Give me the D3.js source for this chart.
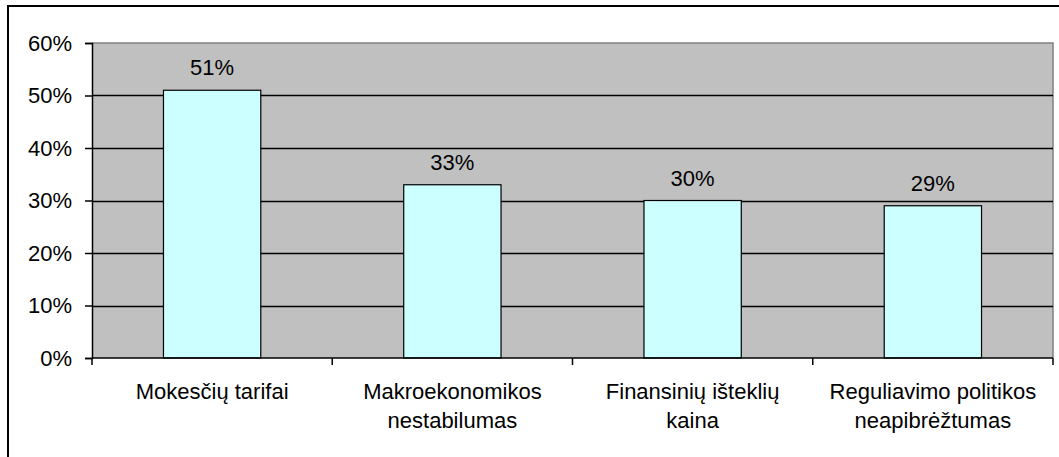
<!DOCTYPE html>
<html>
<head>
<meta charset="utf-8">
<script src="https://cdn.jsdelivr.net/npm/d3@7"></script>
<style>
  body { margin: 0; background: #fff; }
  svg text { font-family: "Liberation Sans", Arial, sans-serif; fill: #000; }
</style>
</head>
<body>
<svg id="chart" width="1059" height="457"></svg>
<script>
// chart data
const categories = [
    ["Mokesčių tarifai"],
    ["Makroekonomikos", "nestabilumas"],
    ["Finansinių išteklių", "kaina"],
    ["Reguliavimo politikos", "neapibrėžtumas"]
];
const values = [0.51, 0.33, 0.30, 0.29];
const yTicks = [0, 0.1, 0.2, 0.3, 0.4, 0.5, 0.6];

(function() {
    const svg = d3.select("#chart");
    const plot = { left: 92, top: 43, right: 1053, bottom: 358 };
    const fontSize = 22;

    // outer frame, runs off the right and bottom edge
    svg.append("rect")
        .attr("x", 8).attr("y", 6)
        .attr("width", 1070).attr("height", 470)
        .attr("fill", "#fff")
        .attr("stroke", "#000")
        .attr("stroke-width", 2);

    const x = d3.scaleBand()
        .domain(d3.range(categories.length))
        .range([plot.left, plot.right])
        .paddingInner(0.595)
        .paddingOuter(0.2975);

    const y = d3.scaleLinear()
        .domain([0, 0.6])
        .range([plot.bottom, plot.top]);

    svg.append("rect")
        .attr("x", plot.left).attr("y", plot.top)
        .attr("width", plot.right - plot.left)
        .attr("height", plot.bottom - plot.top)
        .attr("fill", "#c0c0c0");

    // top + right border of plot area in grey
    svg.append("path")
        .attr("d", `M${plot.left},${plot.top}H${plot.right}V${plot.bottom}`)
        .attr("fill", "none")
        .attr("stroke", "#808080")
        .attr("stroke-width", 1.5);

    // gridlines
    svg.append("g")
        .selectAll("line")
        .data(yTicks.filter(d => d > 0 && d < 0.6))
        .join("line")
        .attr("x1", plot.left).attr("x2", plot.right)
        .attr("y1", d => Math.round(y(d)) + 0.5)
        .attr("y2", d => Math.round(y(d)) + 0.5)
        .attr("stroke", "#000")
        .attr("stroke-width", 1.5);

    // bars
    svg.append("g")
        .selectAll("rect")
        .data(values)
        .join("rect")
        .attr("x", (d, i) => x(i))
        .attr("y", d => y(d))
        .attr("width", x.bandwidth())
        .attr("height", d => plot.bottom - y(d))
        .attr("fill", "#ccffff")
        .attr("stroke", "#000")
        .attr("stroke-width", 1.2);

    // value labels
    svg.append("g")
        .selectAll("text")
        .data(values)
        .join("text")
        .attr("x", (d, i) => x(i) + x.bandwidth() / 2)
        .attr("y", d => y(d) - 15)
        .attr("text-anchor", "middle")
        .attr("font-size", fontSize)
        .text(d => d3.format(".0%")(d));

    // y axis
    const yAxis = d3.axisLeft(y)
        .tickValues(yTicks)
        .tickFormat(d3.format(".0%"))
        .tickSize(7)
        .tickPadding(13);

    svg.append("g")
        .attr("transform", `translate(${plot.left},0)`)
        .call(yAxis)
        .call(g => g.select(".domain").attr("stroke-width", 1.5))
        .call(g => g.selectAll(".tick line").attr("stroke-width", 1.5))
        .call(g => g.selectAll("text")
            .attr("font-size", fontSize)
            .attr("font-family", "Liberation Sans, Arial, sans-serif"));

    // x axis: line at 0 with ticks between categories
    const step = x.step();
    const bounds = d3.range(categories.length + 1).map(i => plot.left + i * step);
    const xg = svg.append("g");
    xg.append("line")
        .attr("x1", plot.left).attr("x2", plot.right)
        .attr("y1", plot.bottom).attr("y2", plot.bottom)
        .attr("stroke", "#000")
        .attr("stroke-width", 1.5);
    xg.selectAll(".xtick")
        .data(bounds)
        .join("line")
        .attr("class", "xtick")
        .attr("x1", d => d).attr("x2", d => d)
        .attr("y1", plot.bottom).attr("y2", plot.bottom + 7)
        .attr("stroke", "#000")
        .attr("stroke-width", 1.5);

    const labels = xg.selectAll(".cat")
        .data(categories)
        .join("text")
        .attr("class", "cat")
        .attr("text-anchor", "middle")
        .attr("font-size", fontSize)
        .attr("transform", (d, i) => `translate(${x(i) + x.bandwidth() / 2},399)`);

    labels.selectAll("tspan")
        .data(d => d)
        .join("tspan")
        .attr("x", 0)
        .attr("y", (d, i) => i * 29)
        .text(d => d);
})();
</script>
</body>
</html>
